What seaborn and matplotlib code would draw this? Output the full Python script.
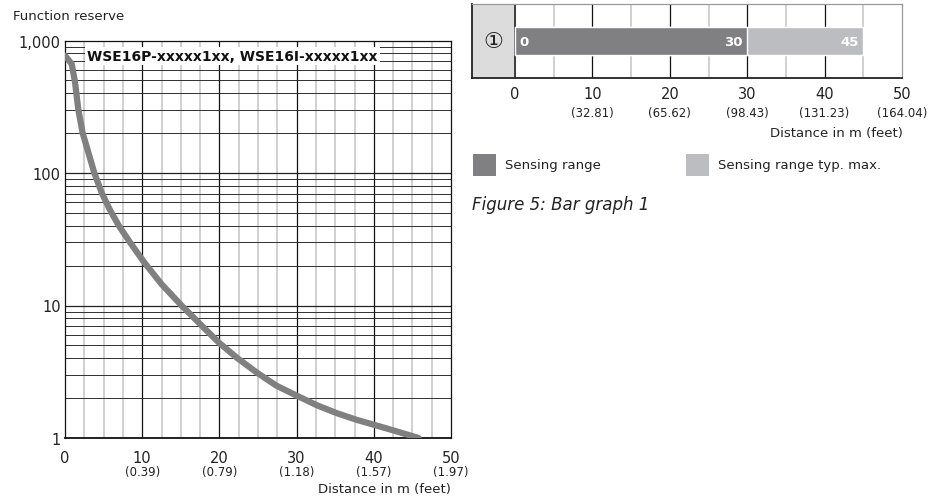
import numpy as np
import pandas as pd
import matplotlib
matplotlib.use('Agg')
import matplotlib.pyplot as plt
import seaborn as sns
from matplotlib.patches import Rectangle
from matplotlib.ticker import FixedLocator, NullFormatter

# curve: distance in m vs function reserve
dist = [0, 0.87, 1.3, 1.73, 2.29, 2.98, 3.8, 4.75, 5.83, 7.0, 8.5, 10.2, 12.5,
        15.1, 17.5, 19.9, 22.2, 24.8, 27.4, 30.0, 32.6, 35.2, 37.8, 40.4, 43.0, 45.8]
reserve = [769, 665, 484, 300, 200, 146, 100, 71, 52.5, 39.8, 29.5, 21.4, 14.5,
           10, 7.25, 5.27, 4.06, 3.13, 2.48, 2.09, 1.77, 1.54, 1.37, 1.24, 1.12, 1.0]

# axis ticks
x_ticks = [0, 10, 20, 30, 40, 50]
left_sub = ['', '(0.39)', '(0.79)', '(1.18)', '(1.57)', '(1.97)']
right_sub = ['', '(32.81)', '(65.62)', '(98.43)', '(131.23)', '(164.04)']
y_ticks = [1, 10, 100, 1000]
y_labels = ['1', '10', '100', '1,000']

# bar graph
range_names = ['Sensing range', 'Sensing range typ. max.']
range_ends = [30, 45]
range_start = 0

curve_label = 'WSE16P-xxxxx1xx, WSE16I-xxxxx1xx'

dark = '#808083'
light = '#bcbdc0'

sns.set_theme(style='white')
plt.rcParams['font.family'] = ['DejaVu Sans', 'Noto Sans CJK SC']
plt.rcParams['text.color'] = '#222222'

fig = plt.figure(figsize=(9.43, 5.02), dpi=100)
W, H = 943, 502

def px_axes(l, t, r, b):
    return fig.add_axes([l / W, 1 - b / H, (r - l) / W, (b - t) / H])

# ---------- left: function reserve curve ----------
ax = px_axes(65, 41.5, 451, 439)
df = pd.DataFrame({'dist': dist, 'reserve': reserve})
ax.set_yscale('log')
ax.set_xlim(0, 50)
ax.set_ylim(1, 1000)

# grid
for xv in np.arange(2.5, 50, 2.5):
    if xv % 10 == 0:
        ax.axvline(xv, color='#111111', lw=0.9, zorder=1)
    else:
        ax.axvline(xv, color='#c4c4c4', lw=1.1, zorder=0.5)
for dec in [1, 10, 100]:
    for m in range(1, 10):
        ax.axhline(dec * m, color='#222222', lw=0.9 if m == 1 else 0.65, zorder=1)

sns.lineplot(data=df, x='dist', y='reserve', ax=ax, color='#808080', lw=4.5,
             sort=False, zorder=3, solid_capstyle='round', solid_joinstyle='round')

ax.text(2.85, 760, curve_label, fontsize=10, fontweight='bold', va='center', ha='left',
        color='#111111', zorder=4,
        bbox=dict(facecolor='white', edgecolor='none', pad=1.5))

ax.yaxis.set_major_locator(FixedLocator(y_ticks))
ax.yaxis.set_minor_formatter(NullFormatter())
ax.set_yticklabels(y_labels)
ax.set_xticks(x_ticks)
ax.set_xticklabels([str(v) for v in x_ticks])
ax.tick_params(axis='both', length=0, labelsize=10.5, colors='#222222', pad=3)
ax.tick_params(axis='x', pad=9)
ax.tick_params(axis='y', which='minor', length=0)
ax.set_xlabel('')
ax.set_ylabel('')
for sp in ax.spines.values():
    sp.set_color('#111111')
    sp.set_linewidth(0.9)
ax.spines['bottom'].set_linewidth(1.3)
for xv, s in zip(x_ticks, left_sub):
    if s:
        ax.text(xv, -0.0855, s, transform=ax.get_xaxis_transform(), ha='center', va='center',
                fontsize=8.5, color='#222222')
fig.text(451 / W, 1 - 490 / H, 'Distance in m (feet)', ha='right', va='center', fontsize=9.5)
fig.text(13 / W, 1 - 17 / H, 'Function reserve', ha='left', va='center', fontsize=9.5)

# ---------- right: bar graph ----------
bx = px_axes(472, 5, 902, 79)
bx.set_xlim(-5.56, 50)
bx.axvspan(-5.56, 0, color='#dcdcdc', zorder=0)
for xv in range(5, 50, 5):
    if xv % 10 == 0:
        bx.axvline(xv, color='#111111', lw=0.9, zorder=1)
    else:
        bx.axvline(xv, color='#c4c4c4', lw=1.1, zorder=0.5)
bx.axvline(0, color='#222222', lw=1.2, zorder=1)

bars = pd.DataFrame({'row': ['1', '1'], 'end': range_ends, 'kind': range_names})
sns.barplot(data=bars.iloc[[1]], x='end', y='row', orient='h', color=light, width=0.38,
            ax=bx, zorder=2, saturation=1)
sns.barplot(data=bars.iloc[[0]], x='end', y='row', orient='h', color=dark, width=0.38,
            ax=bx, zorder=3, saturation=1)
bx.set_ylim(0.5, -0.5)
bx.set_xlim(-5.56, 50)

bx.text(range_start + 0.5, 0, str(range_start), color='white', ha='left', va='center',
        fontsize=9.5, fontweight='bold', zorder=4)
for e in range_ends:
    bx.text(e - 0.6, 0, str(e), color='white', ha='right', va='center',
            fontsize=9.5, fontweight='bold', zorder=4)
bx.text(-2.78, 0, '\u2460', ha='center', va='center', fontsize=16, color='#222222')

bx.set_xticks(x_ticks)
bx.set_xticklabels([str(v) for v in x_ticks])
bx.set_yticks([])
bx.set_xlabel('')
bx.set_ylabel('')
bx.tick_params(axis='x', length=0, labelsize=10.5, colors='#222222', pad=6)
for sp in ['left', 'bottom']:
    bx.spines[sp].set_color('#222222')
    bx.spines[sp].set_linewidth(1.3)
for sp in ['top', 'right']:
    bx.spines[sp].set_color('#999999')
    bx.spines[sp].set_linewidth(0.9)
for xv, s in zip(x_ticks, right_sub):
    if s:
        bx.text(xv, -0.46, s, transform=bx.get_xaxis_transform(), ha='center', va='center',
                fontsize=8.5, color='#222222')
fig.text(903 / W, 1 - 133 / H, 'Distance in m (feet)', ha='right', va='center', fontsize=9.5)

# legend boxes
for (lx, name, col) in [(473, range_names[0], dark), (686, range_names[1], light)]:
    fig.patches.append(Rectangle((lx / W, 1 - 177 / H), 23 / W, 22 / H, transform=fig.transFigure,
                                 facecolor=col, edgecolor='none'))
    fig.text((lx + 32) / W, 1 - 166 / H, name, ha='left', va='center', fontsize=9.5)

fig.text(472 / W, 1 - 205 / H, 'Figure 5: Bar graph 1', ha='left', va='center', fontsize=12,
         style='italic')

fig.savefig('out.png', dpi=100, facecolor='white')
